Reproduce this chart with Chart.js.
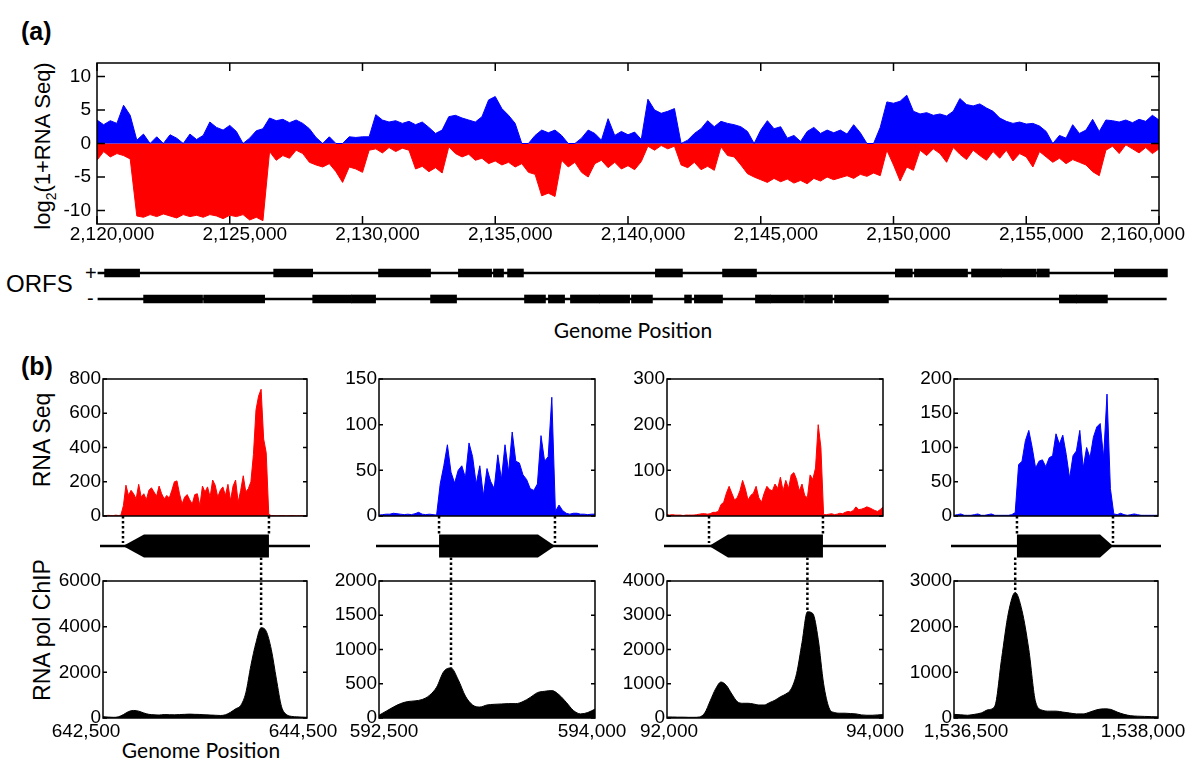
<!DOCTYPE html>
<html lang="en">
<head>
<meta charset="UTF-8">
<title>RNA Seq and RNA pol ChIP</title>
<script src="https://cdn.jsdelivr.net/npm/chart.js"></script>
<style>
    html, body { margin: 0; padding: 0; background: #fff; overflow: hidden; }
    #fig { position: relative; width: 1200px; height: 776px; overflow: hidden;
           font-family: 'Liberation Sans', Arial, Helvetica, sans-serif; color: #000; }
    #fig canvas { position: absolute; }
    .lbl { position: absolute; white-space: nowrap; line-height: 1; }
    .rot { transform: translate(-50%, -50%) rotate(-90deg); }
    .hc { transform: translateX(-50%); }
    .gp { font-family: Lato, 'Open Sans', sans-serif; font-size: 21px; }
</style>
</head>
<body>
<div id="fig">
    <div class="lbl" style="left:21px; top:19px; font-size:25px; font-weight:bold;">(a)</div>
    <div class="lbl rot" style="left:45px; top:146px; font-size:22px;">log<sub style="font-size:14px;">2</sub>(1+RNA Seq)</div>
    <div class="lbl" style="left:6px; top:272px; font-size:24px;">ORFS</div>
    <div class="lbl" style="left:85px; top:263px; font-size:20px;">+</div>
    <div class="lbl" style="left:87px; top:288px; font-size:20px;">-</div>
    <div class="lbl hc gp" style="left:633px; top:319px;">Genome Position</div>

    <div class="lbl" style="left:21px; top:354px; font-size:25px; font-weight:bold;">(b)</div>
    <div class="lbl rot" style="left:42px; top:440px; font-size:23px;">RNA Seq</div>
    <div class="lbl rot" style="left:42px; top:630px; font-size:23px;">RNA pol ChIP</div>
    <div class="lbl hc gp" style="left:201px; top:739px;">Genome Position</div>
</div>

<script>
    // ---- panel (a): strand-specific RNA Seq, 250 bp bins ----
    const mainStart = 2120000;
    const mainStep = 250;
    const plusStrand = [
        3.5, 2.8, 3.4, 3.0, 5.7, 4.2, 0.5, 1.4, 0, 1.0,
        0, 1.3, 0.8, 0, 1.4, 0.6, 1.2, 3.2, 2.4, 2.0,
        2.7, 1.8, 0, 0.8, 1.9, 2.2, 3.8, 3.4, 3.6, 3.1,
        3.5, 3.0, 2.2, 0.9, 0, 1.0, 0, 0, 1.0, 0.9,
        1.0, 1.0, 4.3, 3.5, 3.2, 3.4, 3.0, 3.3, 2.8, 3.2,
        2.4, 1.5, 2.0, 4.0, 4.2, 3.8, 3.5, 3.2, 4.0, 6.5,
        7.0, 5.2, 4.2, 3.0, 0, 0, 1.2, 2.0, 1.6, 2.0,
        1.2, 0, 0, 0.8, 2.0, 1.5, 0.5, 3.7, 1.2, 1.8,
        1.3, 1.7, 0.6, 6.6, 5.0, 4.5, 4.8, 5.2, 0, 0.5,
        1.5, 2.2, 3.4, 2.5, 3.3, 3.0, 2.8, 2.5, 1.8, 0,
        2.0, 3.4, 2.2, 2.5, 0.8, 1.2, 0.3, 1.8, 2.4, 1.5,
        2.0, 1.6, 2.0, 1.4, 2.8, 1.6, 0, 0, 2.4, 6.2,
        6.0, 6.3, 7.2, 4.8, 4.4, 4.6, 4.2, 4.4, 4.1, 4.8,
        6.7, 5.8, 5.6, 5.9, 5.3, 4.8, 3.8, 3.3, 3.0, 3.2,
        2.9, 3.0, 2.6, 1.8, 0, 1.2, 0.8, 2.8, 1.5, 2.0,
        3.6, 1.8, 3.5, 3.4, 3.2, 3.5, 3.1, 3.6, 3.3, 4.2,
        3.5
    ];
    const minusStrand = [
        -2.5, -1.2, -2.0, -1.5, -1.8, -2.3, -10.8, -11.0, -10.6, -10.9,
        -10.5, -10.8, -11.1, -10.6, -10.9, -10.7, -11.0, -10.6, -10.8, -11.2,
        -10.7, -10.9, -10.6, -11.4, -11.0, -11.5, -1.2, -2.5, -1.8, -2.2,
        -1.0, -1.5, -2.8, -3.2, -3.5, -3.0, -4.2, -5.8, -3.5, -3.8,
        -4.3, -1.0, -0.8, -1.4, -0.6, -1.2, -0.7, -1.0, -3.8, -3.4,
        -4.2, -3.6, -4.4, -0.5, -1.5, -2.0, -1.6, -2.5, -2.2, -3.0,
        -2.6, -3.2, -2.8, -3.5, -3.0, -4.3, -4.6, -7.8, -7.4, -7.9,
        -2.5, -3.5, -2.8, -4.3, -5.0, -3.0, -2.5, -3.6, -2.8, -3.8,
        -3.3, -3.9, -2.7, -0.4, -1.0, -0.3, -0.8, -0.4, -3.2, -3.6,
        -2.8, -3.9, -3.4, -4.0, -0.5, -1.8, -2.0, -3.2, -4.5, -5.0,
        -5.4, -5.8, -5.2, -5.7, -5.3, -5.9, -5.5, -6.0, -5.2, -5.6,
        -5.0, -5.4, -5.1, -4.8, -5.2, -4.6, -4.9, -4.4, -4.8, -1.0,
        -3.2, -5.6, -3.5, -4.0, -1.0, -1.8, -0.8, -1.5, -2.8, -0.6,
        -1.6, -2.4, -1.0, -1.8, -2.5, -1.2, -2.2, -1.0, -2.6, -1.5,
        -2.0, -3.5, -1.2, -2.0, -2.8, -2.2, -3.0, -2.4, -2.8, -3.2,
        -4.2, -4.8, -1.0, -0.4, -1.5, -0.2, -0.8, -1.4, -0.6, -1.5,
        -0.8
    ];
    const mainXTicks = [2120000, 2125000, 2130000, 2135000, 2140000, 2145000, 2150000, 2155000, 2160000];
    const mainYTicks = [-10, -5, 0, 5, 10];

    // ORFs [start, end] per strand
    const orfPlus = [
        [2120300, 2121620], [2126670, 2128140], [2130620, 2132580], [2133630, 2134880],
        [2134950, 2135330], [2135480, 2136080], [2141050, 2142070], [2143580, 2144860],
        [2150090, 2150730], [2150810, 2152810], [2152960, 2154090], [2154090, 2155400],
        [2155440, 2155890], [2158340, 2160340]
    ];
    const orfMinus = [
        [2121770, 2123990], [2124030, 2126330], [2128140, 2129600], [2129600, 2130510],
        [2132580, 2133560], [2136120, 2136910], [2137020, 2137630], [2137850, 2138950],
        [2138950, 2140080], [2140150, 2140940], [2142150, 2142410], [2142520, 2143580],
        [2144820, 2145390], [2145390, 2146630], [2146670, 2147720], [2147800, 2149830],
        [2156270, 2156910], [2156910, 2158080]
    ];
    const orfTrack = [2120050, 2160300];

    // ---- panel (b): four loci ----
    const winStart = [642500, 592500, 92000, 1536500];
    const winEnd = [644500, 594000, 94000, 1538000];
    const rnaStep = 25;
    const chipStep = 50;

    const rna1 = [
        3, 2, 4, 3, 2, 5, 3, 4, 60, 180,
        120, 150, 130, 100, 185, 110, 130, 95, 150, 165,
        140, 115, 175, 130, 100, 120, 105, 150, 200, 205,
        130, 70, 110, 125, 95, 70, 125, 130, 60, 175,
        140, 170, 110, 210, 180, 110, 150, 170, 120, 185,
        90, 175, 210, 80, 150, 235, 140, 160, 200, 360,
        620, 700, 740, 450, 370, 10, 2, 3, 1, 2,
        3, 2, 1, 2, 3, 2, 1, 2, 3, 2,
        2
    ];
    const rna2 = [
        1, 1.5, 2, 2, 3, 2.5, 2, 1.5, 2, 1.5,
        2.5, 4, 2, 1.5, 2, 1.5, 1, 35, 55, 78,
        48, 36, 50, 55, 42, 80, 65, 35, 55, 22,
        52, 38, 30, 67, 40, 78, 48, 92, 60, 58,
        45, 40, 30, 28, 35, 88, 60, 65, 130, 5,
        12, 6, 3, 2, 3, 3, 2, 2, 1.5, 2,
        2
    ];
    const rna3 = [
        3, 2, 3, 2, 2, 2, 1, 2, 2, 2,
        2, 3, 4, 5, 5, 4, 5, 8, 8, 10,
        25, 30, 50, 65, 50, 35, 40, 55, 78, 60,
        35, 45, 50, 65, 40, 30, 50, 65, 58, 55,
        70, 60, 85, 55, 78, 60, 90, 95, 80, 55,
        70, 45, 40, 90, 80, 105, 200, 150, 3, 3,
        4, 5, 3, 4, 6, 5, 8, 10, 9, 12,
        20, 14, 15, 17, 20, 18, 15, 12, 10, 14,
        20
    ];
    const rna4 = [
        1, 2, 3, 1, 1, 1, 2, 3, 1, 1,
        2, 3, 1, 1, 1, 1, 1, 2, 5, 75,
        80, 110, 125, 100, 70, 80, 82, 72, 85, 88,
        120, 105, 118, 90, 55, 88, 95, 125, 70, 100,
        85, 115, 130, 135, 85, 178, 40, 3, 2, 4,
        2, 1, 2, 3, 2, 1, 1, 1, 1, 1,
        1
    ];
    const chip1 = [
        60, 40, 30, 50, 150, 280, 330, 300, 220, 160,
        140, 130, 150, 145, 140, 150, 160, 170, 160, 155,
        140, 130, 120, 110, 140, 250, 400, 550, 1100, 2300,
        3300, 3950, 3800, 3000, 1700, 500, 150, 70, 50, 40,
        30
    ];
    const chip2 = [
        40, 100, 160, 210, 240, 250, 270, 330, 450, 680,
        730, 560, 320, 190, 160, 190, 200, 205, 210, 210,
        240, 300, 370, 390, 400, 340, 230, 110, 60, 80,
        130
    ];
    const chip3 = [
        30, 30, 25, 25, 20, 20, 30, 150, 500, 850,
        1050, 950, 700, 480, 430, 430, 410, 380, 380, 450,
        520, 620, 700, 850, 1300, 2200, 3100, 3050, 2300, 1000,
        300, 160, 140, 140, 130, 120, 90, 80, 80, 90,
        100
    ];
    const chip4 = [
        80, 70, 60, 80, 110, 180, 260, 1300, 2300, 2750,
        2350, 1500, 350, 170, 150, 150, 130, 110, 90, 90,
        130, 180, 200, 190, 130, 80, 50, 40, 35, 30,
        25
    ];
    const rnaSeries = [rna1, rna2, rna3, rna4];
    const chipSeries = [chip1, chip2, chip3, chip4];
    const rnaMax = [800, 150, 300, 200];
    const rnaTicks = [[0, 200, 400, 600, 800], [0, 50, 100, 150], [0, 100, 200, 300], [0, 50, 100, 150, 200]];
    const chipMax = [6000, 2000, 4000, 3000];
    const chipTicks = [[0, 2000, 4000, 6000], [0, 500, 1000, 1500, 2000], [0, 1000, 2000, 3000, 4000], [0, 1000, 2000, 3000]];
    const rnaColor = ['#ff0000', '#0000ff', '#ff0000', '#0000ff'];

    // genes: start/end, strand, arrow head length (bp)
    const geneStart = [642696, 592917, 92389, 1536963];
    const geneEnd = [644127, 593722, 93444, 1537669];
    const geneStrand = ['-', '+', '-', '+'];
    const geneHead = [206, 118, 176, 95];

    // ---- drawing ----
    const FONT = "'Liberation Sans', Arial, Helvetica, sans-serif";
    Chart.defaults.font.family = FONT;
    Chart.defaults.font.size = 19;
    Chart.defaults.color = '#000';
    Chart.defaults.animation = false;

    const fig = document.getElementById('fig');
    function place(left, top, w, h) {
        const c = document.createElement('canvas');
        c.width = w; c.height = h;
        c.style.left = left + 'px'; c.style.top = top + 'px';
        c.style.width = w + 'px'; c.style.height = h + 'px';
        fig.appendChild(c);
        return c;
    }
    const series = (vals, start, step) => vals.map((v, i) => ({ x: start + i * step, y: v }));
    const noPlugins = { legend: { display: false }, tooltip: { enabled: false } };

    const mainFrame = {
        id: 'mainFrame',
        afterDatasetsDraw(chart) {
            const { ctx, chartArea: a, scales: { x, y } } = chart;
            ctx.save();
            ctx.strokeStyle = '#000';
            ctx.lineWidth = 1.5;
            ctx.strokeRect(a.left, a.top, a.right - a.left, a.bottom - a.top);
            ctx.beginPath();
            y.ticks.forEach(t => {
                const p = y.getPixelForValue(t.value);
                ctx.moveTo(a.left, p); ctx.lineTo(a.left + 8, p);
                ctx.moveTo(a.right, p); ctx.lineTo(a.right - 8, p);
            });
            mainXTicks.forEach(v => {
                const p = x.getPixelForValue(v);
                ctx.moveTo(p, a.top); ctx.lineTo(p, a.top + 8);
                ctx.moveTo(p, a.bottom); ctx.lineTo(p, a.bottom - 8);
            });
            ctx.stroke();
            ctx.font = '19px ' + FONT;
            ctx.fillStyle = '#000';
            ctx.textAlign = 'center';
            ctx.textBaseline = 'top';
            mainXTicks.forEach(v => {
                const s = v.toLocaleString('en-US');
                const w = ctx.measureText(s).width;
                const cx = Math.min(x.getPixelForValue(v) + 15, chart.width - w / 2 - 2);
                ctx.fillText(s, cx, a.bottom + 1);
            });
            ctx.restore();
        }
    };

    const boxPlugin = {
        id: 'box',
        afterDatasetsDraw(chart) {
            const { ctx, chartArea: a, scales: { y } } = chart;
            ctx.save();
            ctx.strokeStyle = '#000';
            ctx.lineWidth = 1.5;
            ctx.strokeRect(a.left, a.top, a.right - a.left, a.bottom - a.top);
            ctx.beginPath();
            y.ticks.forEach(t => {
                const p = y.getPixelForValue(t.value);
                ctx.moveTo(a.left, p); ctx.lineTo(a.left + 4, p);
                ctx.moveTo(a.right, p); ctx.lineTo(a.right - 4, p);
            });
            ctx.stroke();
            ctx.restore();
        }
    };

    // nudges of the two end labels under each ChIP panel, in pixels
    const endLabelNudge = [[-17, -4], [5, -3], [2, -8], [12, -15]];

    function genePlugin(c) {
        return {
            id: 'gene' + c,
            afterDatasetsDraw(chart) {
                const { ctx, chartArea: a, scales: { x, y } } = chart;
                const yl = a.top - 35, hh = 11.5;
                const minus = geneStrand[c] === '-';
                const xs = x.getPixelForValue(geneStart[c]);
                const xe = x.getPixelForValue(geneEnd[c]);
                const xh = x.getPixelForValue(minus ? geneStart[c] + geneHead[c] : geneEnd[c] - geneHead[c]);
                ctx.save();
                ctx.strokeStyle = '#000';
                ctx.fillStyle = '#000';
                ctx.lineWidth = 2.5;
                ctx.beginPath();
                ctx.moveTo(a.left - 3, yl); ctx.lineTo(a.right + 3, yl);
                ctx.stroke();
                ctx.beginPath();
                if (minus) {
                    ctx.moveTo(xs, yl); ctx.lineTo(xh, yl - hh); ctx.lineTo(xe, yl - hh);
                    ctx.lineTo(xe, yl + hh); ctx.lineTo(xh, yl + hh);
                } else {
                    ctx.moveTo(xe, yl); ctx.lineTo(xh, yl + hh); ctx.lineTo(xs, yl + hh);
                    ctx.lineTo(xs, yl - hh); ctx.lineTo(xh, yl - hh);
                }
                ctx.closePath();
                ctx.fill();

                // dotted guides: RNA edges -> gene, gene -> ChIP summit
                const tipX = minus ? xs : xe, boxX = minus ? xe : xs;
                const d = chart.data.datasets[0].data;
                const pk = d.reduce((m, p) => (p.y > m.y ? p : m), d[0]);
                const px = x.getPixelForValue(pk.x);
                ctx.setLineDash([2.5, 2.5]);
                ctx.lineWidth = 2.5;
                ctx.beginPath();
                ctx.moveTo(tipX, 0); ctx.lineTo(tipX, yl - 3);
                ctx.moveTo(boxX, 0); ctx.lineTo(boxX, yl - hh);
                ctx.moveTo(px, yl + hh); ctx.lineTo(px, y.getPixelForValue(pk.y));
                ctx.stroke();
                ctx.setLineDash([]);

                // window end labels
                ctx.font = '19px ' + FONT;
                ctx.textAlign = 'center';
                ctx.textBaseline = 'top';
                [winStart[c], winEnd[c]].forEach((v, k) => {
                    ctx.fillText(v.toLocaleString('en-US'), x.getPixelForValue(v) + endLabelNudge[c][k], a.bottom + 4);
                });
                ctx.restore();
            }
        };
    }

    // main chart (a)
    new Chart(place(17, 40, 1170, 210), {
        type: 'line',
        data: {
            datasets: [
                { data: series(plusStrand, mainStart, mainStep), borderColor: '#0000ff', backgroundColor: '#0000ff',
                  fill: 'origin', borderWidth: 1, pointRadius: 0 },
                { data: series(minusStrand, mainStart, mainStep), borderColor: '#ff0000', backgroundColor: '#ff0000',
                  fill: 'origin', borderWidth: 1, pointRadius: 0 }
            ]
        },
        options: {
            responsive: false,
            animation: false,
            layout: { padding: { top: 23, right: 28, bottom: 26, left: 0 } },
            plugins: noPlugins,
            scales: {
                x: { type: 'linear', min: 2120000, max: 2160000, display: false },
                y: {
                    min: -12, max: 12,
                    afterBuildTicks: s => { s.ticks = mainYTicks.map(v => ({ value: v })); },
                    afterFit: s => { s.width = 80; },
                    grid: { display: false, drawTicks: false },
                    border: { display: false },
                    ticks: { padding: 6, callback: v => String(v) }
                }
            }
        },
        plugins: [mainFrame]
    });

    // ORF track
    new Chart(place(86, 255, 1083, 62), {
        type: 'bar',
        data: {
            labels: ['+', '-'],
            datasets: [
                { data: orfPlus.map(r => ({ y: '+', x: r })).concat(orfMinus.map(r => ({ y: '-', x: r }))),
                  backgroundColor: '#000', barThickness: 8, grouped: false, order: 0 },
                { data: [{ y: '+', x: orfTrack }, { y: '-', x: orfTrack }],
                  backgroundColor: '#000', barThickness: 2, grouped: false, order: 1 }
            ]
        },
        options: {
            indexAxis: 'y',
            responsive: false,
            animation: false,
            layout: { padding: { top: 5, bottom: 5, left: 0, right: 0 } },
            plugins: noPlugins,
            scales: {
                x: { type: 'linear', min: 2119600, max: 2160400, display: false },
                y: { type: 'category', offset: true, display: false }
            }
        }
    });

    // panel (b) columns
    const plotLeft = [103, 379, 667, 954];
    const plotWidth = [204, 216, 216, 204];
    for (let c = 0; c < 4; c++) {
        const pl = plotLeft[c], pw = plotWidth[c];
        const yAxis = (max, ticks) => ({
            min: 0, max: max,
            afterBuildTicks: s => { s.ticks = ticks.map(v => ({ value: v })); },
            afterFit: s => { s.width = 70; },
            grid: { display: false, drawTicks: false },
            border: { display: false },
            ticks: { padding: 2, callback: v => String(v) }
        });

        new Chart(place(pl - 70, 365, 70 + pw + 12, 165), {
            type: 'line',
            data: { datasets: [{ data: series(rnaSeries[c], winStart[c], rnaStep),
                borderColor: rnaColor[c], backgroundColor: rnaColor[c], fill: 'origin', borderWidth: 1, pointRadius: 0 }] },
            options: {
                responsive: false,
                animation: false,
                layout: { padding: { top: 14, right: 12, bottom: 14, left: 0 } },
                plugins: noPlugins,
                scales: {
                    x: { type: 'linear', min: winStart[c], max: winEnd[c], display: false },
                    y: yAxis(rnaMax[c], rnaTicks[c])
                }
            },
            plugins: [boxPlugin]
        });

        new Chart(place(pl - 70, 516, 70 + pw + 50, 228), {
            type: 'line',
            data: { datasets: [{ data: series(chipSeries[c], winStart[c], chipStep),
                borderColor: '#000', backgroundColor: '#000', fill: 'origin', borderWidth: 1, pointRadius: 0,
                cubicInterpolationMode: 'monotone' }] },
            options: {
                responsive: false,
                animation: false,
                layout: { padding: { top: 65, right: 50, bottom: 0, left: 0 } },
                plugins: noPlugins,
                scales: {
                    x: {
                        type: 'linear', min: winStart[c], max: winEnd[c],
                        afterBuildTicks: s => { s.ticks = [{ value: winStart[c] }, { value: winEnd[c] }]; },
                        afterFit: s => { s.height = 26; },
                        grid: { display: false, drawTicks: false },
                        border: { display: false },
                        ticks: { display: false }
                    },
                    y: yAxis(chipMax[c], chipTicks[c])
                }
            },
            plugins: [boxPlugin, genePlugin(c)]
        });
    }
</script>
</body>
</html>
